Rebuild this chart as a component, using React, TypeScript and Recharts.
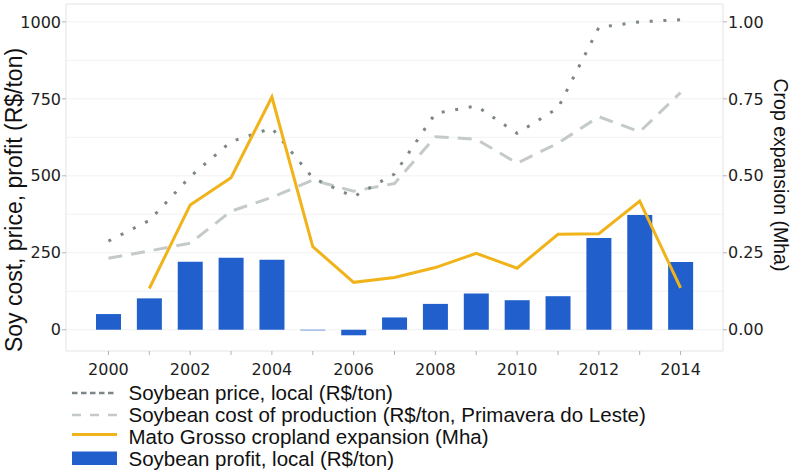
import React from 'react';
import {
  ComposedChart,
  Bar,
  Line,
  XAxis,
  YAxis,
  CartesianGrid,
  Legend,
  ReferenceLine,
} from 'recharts';

const years = [2000, 2001, 2002, 2003, 2004, 2005, 2006, 2007, 2008, 2009, 2010, 2011, 2012, 2013, 2014];
const profit = [51, 102, 221, 234, 227, -2, -18, 40, 84, 118, 96, 109, 298, 373, 220];
const price = [288, 355, 497, 611, 655, 493, 432, 506, 703, 727, 638, 720, 982, 1000, 1007];
const cost = [232, 256, 281, 385, 430, 486, 450, 475, 627, 619, 541, 606, 692, 643, 770];
const expansion = [null, 0.134, 0.405, 0.494, 0.756, 0.27, 0.154, 0.17, 0.202, 0.248, 0.2, 0.31, 0.312, 0.418, 0.136];

const xTickLabels = ['2000', '2002', '2004', '2006', '2008', '2010', '2012', '2014'];
const leftTicks = [0, 250, 500, 750, 1000];
const gridTicks = [0, 125, 250, 375, 500, 625, 750, 875, 1000];
const rightTicks = [0, 0.25, 0.5, 0.75, 1.0];

const leftTitle = 'Soy cost, price, profit (R$/ton)';
const rightTitle = 'Crop expansion (Mha)';
const legendLabels = [
  'Soybean price, local (R$/ton)',
  'Soybean cost of production (R$/ton, Primavera do Leste)',
  'Mato Grosso cropland expansion (Mha)',
  'Soybean profit, local (R$/ton)',
];

const COLORS = {
  price: '#7d8787',
  cost: '#c4caca',
  expansion: '#f1b31a',
  profit: '#2160cc',
  border: '#e3e3e3',
  grid: '#f2f2f2',
  tick: '#b4b4b4',
  text: '#1e1e1e',
};

const data = years.map((y, i) => ({
  year: y,
  profit: profit[i],
  price: price[i],
  cost: cost[i],
  expansion: expansion[i],
}));

const LEFT_DOMAIN: [number, number] = [-69, 1058];
const RIGHT_DOMAIN: [number, number] = [-0.069, 1.058];

const tickFont = { fontFamily: 'DejaVu Sans', fontSize: 16, fill: COLORS.text };

const gridGenerator = (props: any) => {
  const scale = props?.yAxis?.scale;
  const off = props?.offset;
  return gridTicks.map((t) => {
    if (typeof scale === 'function') return scale(t);
    if (scale && typeof scale.map === 'function') return scale.map(t);
    return off.top + (off.height * (LEFT_DOMAIN[1] - t)) / (LEFT_DOMAIN[1] - LEFT_DOMAIN[0]);
  });
};

const LegendContent = () => {
  const icons = [
    <line x1={0} x2={45} y1={11} y2={11} stroke={COLORS.price} strokeWidth={2.5} strokeDasharray="5.5 3.5" />,
    <line x1={0} x2={45} y1={11} y2={11} stroke={COLORS.cost} strokeWidth={2.5} strokeDasharray="9 9" />,
    <line x1={0} x2={45} y1={8.5} y2={8.5} stroke={COLORS.expansion} strokeWidth={3} />,
    <rect x={0} y={3.5} width={45} height={13.5} fill={COLORS.profit} />,
  ];
  return (
    <div style={{ position: 'relative', width: 793, height: 90, paddingTop: 0.6, boxSizing: 'border-box' }}>
      {legendLabels.map((label, i) => (
        <div key={label} style={{ position: 'relative', height: 22.2 }}>
          <svg width={45} height={22} style={{ position: 'absolute', left: 72, top: 0 }}>
            {icons[i]}
          </svg>
          <span
            style={{
              position: 'absolute',
              left: 128.5,
              top: 0,
              lineHeight: '22.2px',
              fontFamily: 'Liberation Sans',
              fontSize: 20.5,
              color: '#111',
              whiteSpace: 'nowrap',
            }}
          >
            {label}
          </span>
        </div>
      ))}
    </div>
  );
};

const LeftTitle = () => (
  <text
    transform="translate(14,200) rotate(-90)"
    textAnchor="middle"
    dominantBaseline="central"
    fontFamily="Liberation Sans"
    fontSize={23}
    fill="#111"
  >
    {leftTitle}
  </text>
);

const RightTitle = () => (
  <text
    transform="translate(781,175) rotate(90)"
    textAnchor="middle"
    dominantBaseline="central"
    fontFamily="Liberation Sans"
    fontSize={19.5}
    fill="#111"
  >
    {rightTitle}
  </text>
);

export default function App() {
  return (
    <div style={{ position: 'absolute', left: 0, top: 0, width: 793, height: 471, background: '#fff' }}>
      <ComposedChart width={793} height={471} data={data} margin={{ top: 4, right: 0, bottom: 0, left: 0 }}>
        <CartesianGrid
          yAxisId="left"
          vertical={false}
          stroke={COLORS.grid}
          strokeWidth={1}
          horizontalCoordinatesGenerator={gridGenerator}
        />
        <XAxis
          dataKey="year"
          type="category"
          interval={0}
          padding={{ left: 22, right: 22 }}
          height={30}
          tickSize={4}
          tickMargin={9}
          tick={tickFont}
          tickFormatter={(v: number) => (xTickLabels.includes(String(v)) ? String(v) : '')}
          axisLine={{ stroke: COLORS.border }}
          tickLine={{ stroke: COLORS.tick }}
        />
        <YAxis
          yAxisId="left"
          domain={LEFT_DOMAIN}
          ticks={leftTicks}
          allowDataOverflow
          width={66}
          tickSize={4}
          tickMargin={1}
          tick={tickFont}
          axisLine={{ stroke: COLORS.border }}
          tickLine={{ stroke: COLORS.tick }}
          label={<LeftTitle />}
        />
        <YAxis
          yAxisId="right"
          orientation="right"
          domain={RIGHT_DOMAIN}
          ticks={rightTicks}
          allowDataOverflow
          width={70}
          tickSize={4}
          tickMargin={1}
          tick={tickFont}
          tickFormatter={(v: number) => v.toFixed(2)}
          axisLine={{ stroke: COLORS.border }}
          tickLine={{ stroke: COLORS.tick }}
          label={<RightTitle />}
        />
        <ReferenceLine yAxisId="left" y={LEFT_DOMAIN[1]} stroke={COLORS.border} />
        <Legend
          verticalAlign="bottom"
          align="center"
          wrapperStyle={{ left: 0, bottom: 0, width: 793, height: 90 }}
          content={<LegendContent />}
        />
        <Bar yAxisId="left" dataKey="profit" barSize={25} fill={COLORS.profit} isAnimationActive={false} />
        <Line
          yAxisId="left"
          dataKey="cost"
          type="linear"
          stroke={COLORS.cost}
          strokeWidth={3}
          strokeDasharray="14 9"
          dot={false}
          activeDot={false}
          isAnimationActive={false}
        />
        <Line
          yAxisId="left"
          dataKey="price"
          type="linear"
          stroke={COLORS.price}
          strokeWidth={3}
          strokeDasharray="3 10.7"
          dot={false}
          activeDot={false}
          isAnimationActive={false}
        />
        <Line
          yAxisId="right"
          dataKey="expansion"
          type="linear"
          stroke={COLORS.expansion}
          strokeWidth={3}
          dot={false}
          activeDot={false}
          isAnimationActive={false}
        />
      </ComposedChart>
    </div>
  );
}
